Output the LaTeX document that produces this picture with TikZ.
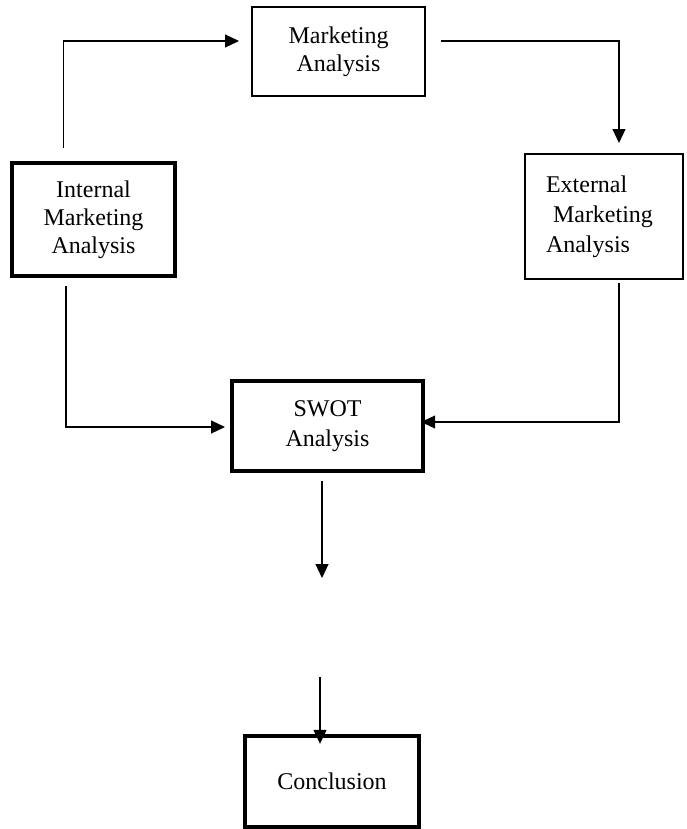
\documentclass[tikz,border=0pt]{standalone}
\usepackage{fontspec}
\setmainfont{Liberation Serif}
\usetikzlibrary{arrows.meta}

\begin{document}
\begin{tikzpicture}
        [x=0.5pt, y=-0.5pt, >={Triangle[length=7pt, width=6.5pt]},
         thinbox/.style={draw=black, line width=1pt, align=center, font=\fontsize{12pt}{14pt}\selectfont},
         thickbox/.style={thinbox, line width=2.2pt},
         flow/.style={->, line width=0.6pt}]

        \useasboundingbox (0,0) rectangle (686,829);

        \node[thinbox, minimum width=86.5pt, minimum height=44.5pt] (market) at (338.5, 51.5) {Marketing\\Analysis};
        \node[thickbox, minimum width=81.5pt, minimum height=56.5pt] (internal) at (93.5, 219.5) {Internal\\Marketing\\Analysis};
        \node[thinbox, line width=1.2pt, align=left, text width=58pt, inner xsep=0pt, minimum width=79pt, minimum height=62.5pt,
              font=\fontsize{12pt}{15pt}\selectfont] (external) at (604, 216.5) {External\\\hspace*{3.5pt}Marketing\\Analysis};
        \node[thickbox, minimum width=95.5pt, minimum height=45pt, font=\fontsize{12pt}{15pt}\selectfont] (swot) at (327.5, 426) {SWOT\\Analysis};
        \node[thickbox, minimum width=87pt, minimum height=45.5pt] (conclusion) at (332, 781.5) {Conclusion};

        \coordinate (gap-top) at (322, 578);
        \coordinate (gap-bottom) at (320, 677);

        \draw[flow] ([xshift=27pt, yshift=6.5pt]internal.north west) |- ([xshift=-6pt, yshift=5.25pt]market.west);
        \draw[flow] ([xshift=7.5pt, yshift=5.25pt]market.east) -| ([xshift=7.5pt, yshift=4.9pt]external.north);
        \draw[flow] ([xshift=-13.75pt, yshift=-3.9pt]internal.south) |- ([xshift=-2.4pt, yshift=-0.5pt]swot.west);
        \draw[flow] ([xshift=7.5pt, yshift=-1.4pt]external.south) |- ([xshift=-2pt, yshift=2pt]swot.east);
        \draw[flow] ([xshift=-2.75pt, yshift=-3.9pt]swot.south) -- (gap-top);
        \draw[flow] (gap-bottom) -- ([xshift=-6pt, yshift=-5pt]conclusion.north);
    \end{tikzpicture}
\end{document}
